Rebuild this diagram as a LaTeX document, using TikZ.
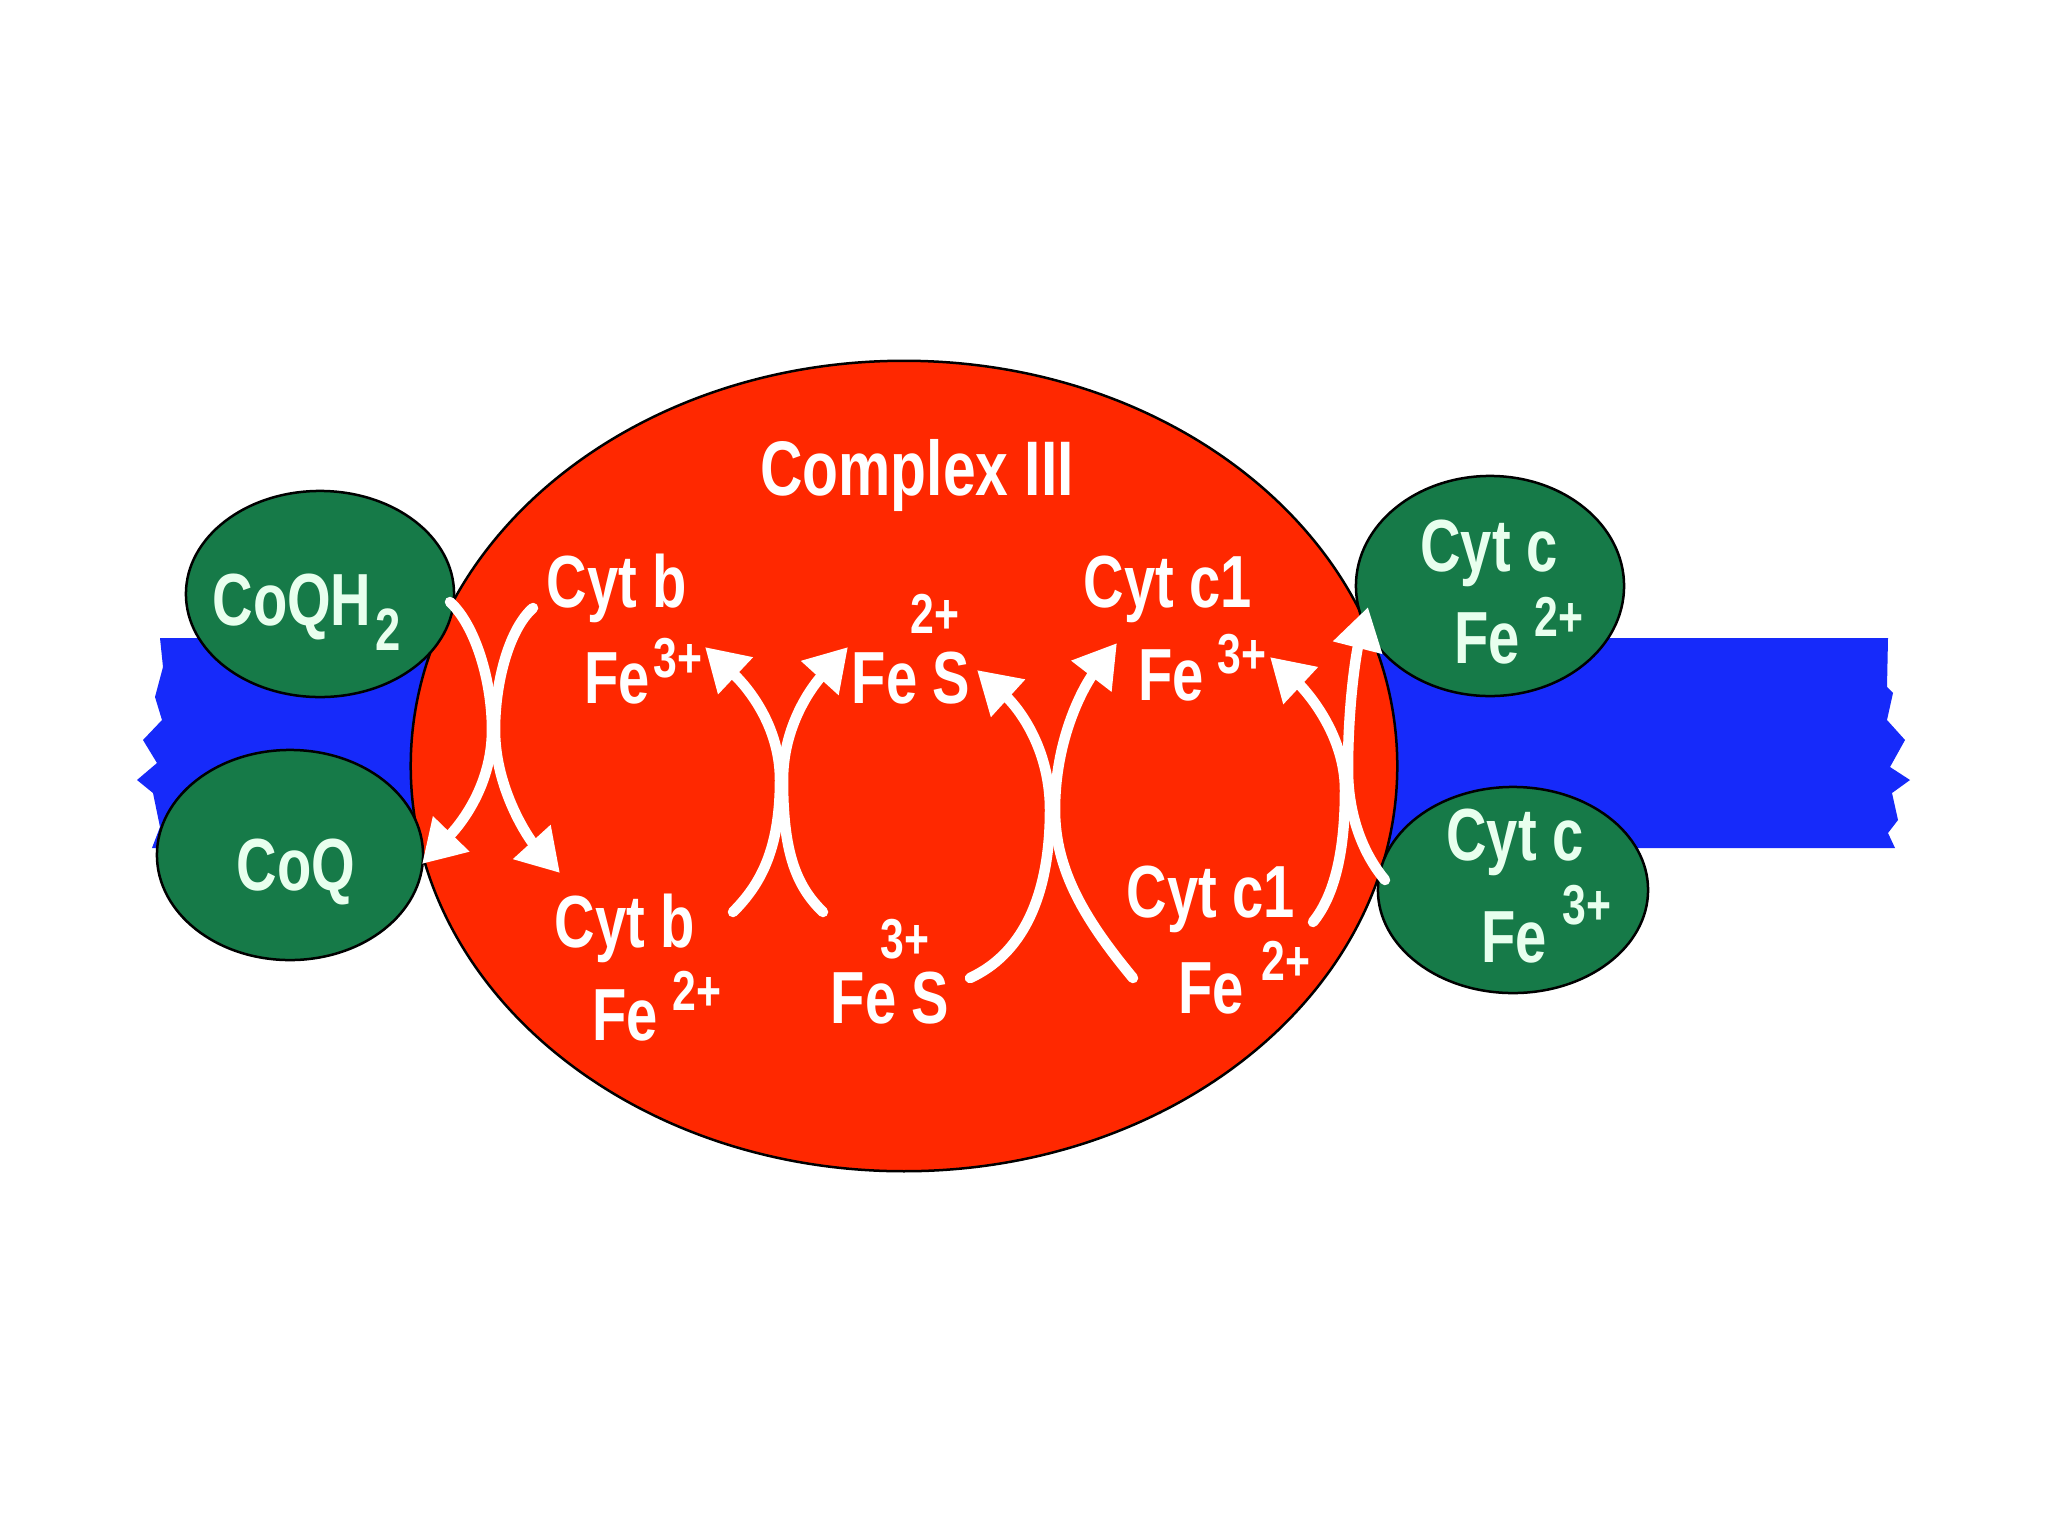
\documentclass[tikz,border=0pt]{standalone}
\usepackage{fontspec}
\newfontfamily\labfont{Liberation Sans}[FakeStretch=0.76]
\usetikzlibrary{arrows.meta,shapes.geometric}
\definecolor{cxred}{RGB}{255,40,0}
\definecolor{memblue}{RGB}{22,42,250}
\definecolor{protgreen}{RGB}{22,122,72}
\definecolor{mint}{RGB}{232,255,238}
\begin{document}
\begin{tikzpicture}[x=0.01cm,y=-0.01cm,
  lab/.style={inner sep=0pt, text=white, font=\labfont\bfseries\fontsize{21pt}{24pt}\selectfont, anchor=base},
  glab/.style={lab, text=mint},
  chg/.style={inner sep=0pt, text=white, font=\labfont\bfseries\fontsize{16pt}{18pt}\selectfont, anchor=base},
  gchg/.style={chg, text=mint},
  blob/.style={ellipse, draw=black, line width=0.025cm, inner sep=0pt},
  flow/.style={draw=white, line width=0.105cm, line cap=round, -{Triangle[length=0.42cm,width=0.48cm]}}]
\useasboundingbox (0,0) rectangle (2048,1536);
\fill[white] (0,0) rectangle (2048,1536);
% membrane band
\fill[memblue] (160,638) -- (1888,638) -- (1887,687) -- (1893,693) -- (1887,720) -- (1905,740)
  -- (1890,767) -- (1910,780) -- (1892,793) -- (1898,820) -- (1888,833) -- (1895,848)
  -- (152,848) -- (160,827) -- (153,793) -- (137,780) -- (157,763) -- (143,740)
  -- (162,720) -- (155,697) -- (163,667) -- cycle;
% complex III
\node[blob, fill=cxred, minimum width=9.86cm, minimum height=8.10cm] (cx) at (904,766) {};
% mobile carriers
\node[blob, fill=protgreen, minimum width=2.68cm, minimum height=2.06cm] (qh2) at (320,594) {};
\node[blob, fill=protgreen, minimum width=2.66cm, minimum height=2.10cm] (q) at (290,855) {};
\node[blob, fill=protgreen, minimum width=2.68cm, minimum height=2.20cm] (cred) at (1490,586) {};
\node[blob, fill=protgreen, minimum width=2.70cm, minimum height=2.06cm] (cox) at (1513,890) {};
% labels
\node[lab, font=\labfont\bfseries\fontsize{22pt}{26pt}\selectfont] (title) at (917,495) {Complex III};
\node[glab] (tqh) at (292,625) {CoQH};
\node[gchg, font=\labfont\bfseries\fontsize{17pt}{18pt}\selectfont] (tqh2) at (388,650) {2};
\node[glab] (tq) at (296,890) {CoQ};
\node[lab] (cb1) at (617,607) {Cyt b};
\node[lab] (fe1) at (617,703) {Fe};
\node[chg] (fe1c) at (678,677) {3+};
\node[lab] (fs1) at (911,703) {Fe S};
\node[chg] (fs1c) at (935,633) {2+};
\node[lab] (cb2) at (625,947) {Cyt b};
\node[lab] (fe2) at (625,1040) {Fe};
\node[chg] (fe2c) at (697,1010) {2+};
\node[lab] (fs2) at (890,1023) {Fe S};
\node[chg] (fs2c) at (905,958) {3+};
\node[lab] (cc1) at (1168,607) {Cyt c1};
\node[lab] (fe3) at (1171,700) {Fe};
\node[chg] (fe3c) at (1242,673) {3+};
\node[lab] (cc2) at (1211,917) {Cyt c1};
\node[lab] (fe4) at (1211,1013) {Fe};
\node[chg] (fe4c) at (1286,980) {2+};
\node[glab] (cc3) at (1489,571) {Cyt c};
\node[glab] (fe5) at (1487,663) {Fe};
\node[gchg] (fe5c) at (1559,636) {2+};
\node[glab] (cc4) at (1515,860) {Cyt c};
\node[glab] (fe6) at (1514,962) {Fe};
\node[gchg] (fe6c) at (1587,924) {3+};
% arrow end points
\coordinate (a1s) at (450,602); \coordinate (a1e) at (422,864);
\coordinate (a2s) at (533,608); \coordinate (a2e) at (560,873);
\coordinate (a3s) at (733,912); \coordinate (a3e) at (705,647);
\coordinate (a4s) at (823,912); \coordinate (a4e) at (848,647);
\coordinate (a5s) at (970,978); \coordinate (a5e) at (977,670);
\coordinate (a6s) at (1133,978); \coordinate (a6e) at (1117,643);
\coordinate (a7s) at (1313,922); \coordinate (a7e) at (1270,657);
\coordinate (a8s) at (1385,880); \coordinate (a8e) at (1368,607);
% electron transfer arrows
\draw[flow] (a1s) .. controls (475,625) and (492,680) .. (492,730) .. controls (492,790) and (455,830) .. (a1e);
\draw[flow] (a2s) .. controls (510,628) and (495,680) .. (495,730) .. controls (495,790) and (530,840) .. (a2e);
\draw[flow] (a3s) .. controls (760,885) and (780,850) .. (780,780) .. controls (780,720) and (740,680) .. (a3e);
\draw[flow] (a4s) .. controls (795,885) and (783,850) .. (783,780) .. controls (783,720) and (818,680) .. (a4e);
\draw[flow] (a5s) .. controls (1020,955) and (1050,900) .. (1050,810) .. controls (1050,740) and (1010,700) .. (a5e);
\draw[flow] (a6s) .. controls (1085,920) and (1055,870) .. (1055,810) .. controls (1055,730) and (1090,678) .. (a6e);
\draw[flow] (a7s) .. controls (1335,895) and (1345,850) .. (1345,790) .. controls (1345,730) and (1300,685) .. (a7e);
\draw[flow] (a8s) .. controls (1360,850) and (1348,810) .. (1348,770) .. controls (1348,700) and (1357,650) .. (a8e);
\end{tikzpicture}
\end{document}
